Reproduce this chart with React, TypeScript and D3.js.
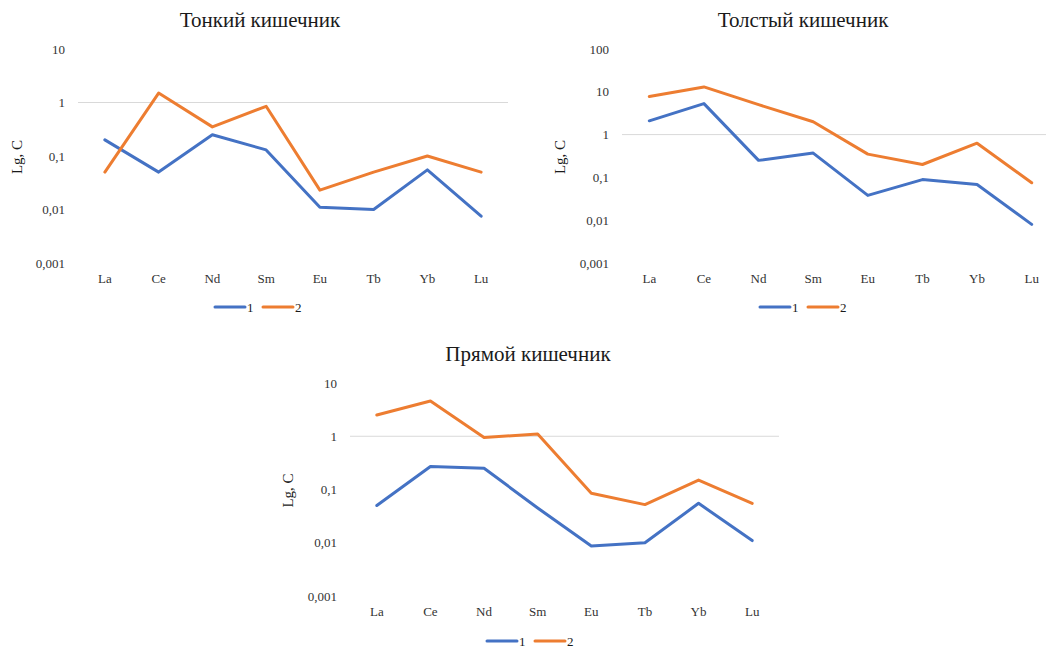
import { useEffect, useRef } from 'react';
import * as d3 from 'd3';

const elements = ['La', 'Ce', 'Nd', 'Sm', 'Eu', 'Tb', 'Yb', 'Lu'];
const seriesNames = ['1', '2'];

// Тонкий кишечник
const smallS1 = [0.2, 0.05, 0.25, 0.13, 0.011, 0.01, 0.055, 0.0075];
const smallS2 = [0.05, 1.5, 0.35, 0.85, 0.023, 0.05, 0.1, 0.05];
// Толстый кишечник
const largeS1 = [2.1, 5.3, 0.25, 0.37, 0.038, 0.089, 0.068, 0.008];
const largeS2 = [7.8, 13, 5.0, 2.0, 0.35, 0.2, 0.63, 0.075];
// Прямой кишечник
const rectS1 = [0.05, 0.27, 0.25, 0.045, 0.0087, 0.01, 0.055, 0.011];
const rectS2 = [2.5, 4.6, 0.95, 1.1, 0.085, 0.052, 0.15, 0.055];

const colors = ['#4472C4', '#ED7D31'];
const FONT = '"Liberation Serif", "Times New Roman", serif';

interface Panel {
  title: string;
  series: number[][];
  domain: [number, number];
  left: number;
  right: number;
  top: number;
  bottom: number;
  titleX: number;
  titleY: number;
  labelX: number;
  legendX: number;
  legendY: number;
}

const panels: Panel[] = [
  {
    title: 'Тонкий кишечник', series: [smallS1, smallS2], domain: [0.001, 10],
    left: 78, right: 508, top: 49, bottom: 263,
    titleX: 260, titleY: 20, labelX: 17, legendX: 215, legendY: 307,
  },
  {
    title: 'Толстый кишечник', series: [largeS1, largeS2], domain: [0.001, 100],
    left: 622, right: 1059, top: 49, bottom: 263,
    titleX: 803, titleY: 20, labelX: 560, legendX: 760, legendY: 307,
  },
  {
    title: 'Прямой кишечник', series: [rectS1, rectS2], domain: [0.001, 10],
    left: 350, right: 779, top: 383, bottom: 596,
    titleX: 528, titleY: 354, labelX: 288, legendX: 487, legendY: 641,
  },
];

const ru = d3.formatLocale({ decimal: ',', thousands: '\u00a0', grouping: [3], currency: ['', ' ₽'] });
const fmt = ru.format('~g');

export default function App() {
  const svgRef = useRef<SVGSVGElement>(null);

  useEffect(() => {
    if (!svgRef.current) return;
    const svg = d3.select(svgRef.current);
    svg.selectAll('*').remove();

    panels.forEach((p) => {
      const g = svg.append('g');
      const x = d3.scalePoint<string>().domain(elements).range([p.left, p.right]).padding(0.5);
      const y = d3.scaleLog().domain(p.domain).range([p.bottom, p.top]);

      // horizontal axis crosses at 1
      g.append('line')
        .attr('x1', p.left).attr('x2', p.right)
        .attr('y1', y(1)).attr('y2', y(1))
        .attr('stroke', '#D9D9D9').attr('stroke-width', 1);

      // y tick labels (decades only)
      g.selectAll('.ytick')
        .data(y.ticks().filter((t) => Math.abs(Math.log10(t) - Math.round(Math.log10(t))) < 1e-9))
        .enter().append('text')
        .attr('x', p.left - 13)
        .attr('y', (d) => y(d))
        .attr('dy', '0.35em')
        .attr('text-anchor', 'end')
        .style('font-family', FONT).style('font-size', '13px').style('fill', '#333')
        .text((d) => fmt(d));

      // category labels
      g.selectAll('.xtick')
        .data(elements)
        .enter().append('text')
        .attr('x', (d) => x(d)!)
        .attr('y', p.bottom + 15)
        .attr('dy', '0.35em')
        .attr('text-anchor', 'middle')
        .style('font-family', FONT).style('font-size', '13px').style('fill', '#333')
        .text((d) => d);

      // lines
      const line = d3.line<number>()
        .x((_, i) => x(elements[i])!)
        .y((d) => y(d));
      p.series.forEach((s, i) => {
        g.append('path')
          .datum(s)
          .attr('d', line)
          .attr('fill', 'none')
          .attr('stroke', colors[i])
          .attr('stroke-width', 3)
          .attr('stroke-linejoin', 'round')
          .attr('stroke-linecap', 'round');
      });

      // title
      g.append('text')
        .attr('x', p.titleX).attr('y', p.titleY)
        .attr('dy', '0.35em')
        .attr('text-anchor', 'middle')
        .style('font-family', FONT).style('font-size', '21px').style('fill', '#1a1a1a')
        .text(p.title);

      // y axis label
      const cy = (p.top + p.bottom) / 2 + 1;
      g.append('text')
        .attr('transform', `translate(${p.labelX},${cy}) rotate(-90)`)
        .attr('dy', '0.35em')
        .attr('text-anchor', 'middle')
        .style('font-family', FONT).style('font-size', '15px').style('fill', '#1a1a1a')
        .text('Lg, C');

      // legend
      seriesNames.forEach((name, i) => {
        const lx = p.legendX + i * 48;
        g.append('line')
          .attr('x1', lx).attr('x2', lx + 30)
          .attr('y1', p.legendY).attr('y2', p.legendY)
          .attr('stroke', colors[i]).attr('stroke-width', 3)
          .attr('stroke-linecap', 'round');
        g.append('text')
          .attr('x', lx + 32).attr('y', p.legendY)
          .attr('dy', '0.35em')
          .style('font-family', FONT).style('font-size', '13px').style('fill', '#1a1a1a')
          .text(name);
      });
    });
  }, []);

  return (
    <svg
      ref={svgRef}
      width={1046}
      height={650}
      style={{ position: 'absolute', left: 0, top: 0, background: '#fff' }}
    />
  );
}
